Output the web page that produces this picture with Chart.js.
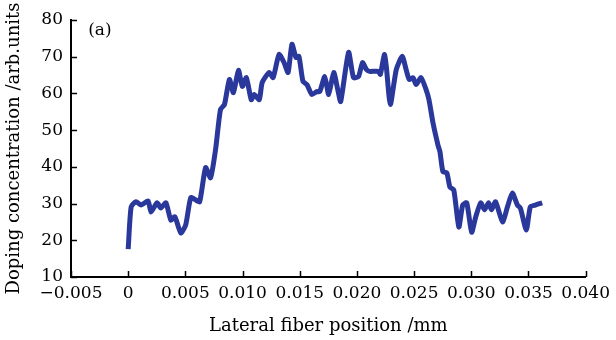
<!DOCTYPE html>
<html>
<head>
<meta charset="utf-8">
<script src="https://cdn.jsdelivr.net/npm/chart.js@4/dist/chart.umd.min.js"></script>
<style>
html,body{margin:0;padding:0;background:#fff;}
#wrap{width:616px;height:340px;position:relative;}
</style>
</head>
<body>
<div id="wrap"><canvas id="c" width="616" height="340"></canvas></div>
<script>
// Lateral fiber position (mm)
const positions = [0.0000,0.00026,0.00069,0.00113,0.00174,0.0020,0.00252,0.00286,0.0033,0.00373,0.00408,0.0046,0.00503,0.00547,0.0059,0.00625,0.00677,0.0072,0.00764,0.00807,0.00842,0.00885,0.0092,0.00964,0.00998,0.01033,0.01076,0.01102,0.01146,0.01172,0.01233,0.01267,0.01319,0.01363,0.01398,0.01432,0.01467,0.01493,0.01528,0.01563,0.01606,0.01649,0.01675,0.01719,0.01753,0.01797,0.01832,0.01858,0.01927,0.01970,0.02014,0.02049,0.02083,0.02109,0.02188,0.02205,0.0224,0.02257,0.02292,0.02344,0.02396,0.0243,0.02457,0.02491,0.02517,0.02561,0.02604,0.0263,0.02665,0.02708,0.02726,0.02752,0.02786,0.02813,0.02847,0.02891,0.02925,0.0296,0.03003,0.03038,0.03082,0.03116,0.03151,0.03177,0.03212,0.03273,0.03316,0.03359,0.03403,0.03429,0.03481,0.03516,0.03559,0.0362];
// Doping concentration (arb. units)
const doping = [17.6,29.1,30.5,29.6,30.7,27.7,30.2,28.8,30.2,25.5,26.4,22.0,24.2,31.6,31.0,30.5,39.8,37.0,44.7,55.6,57.0,63.8,60.2,66.3,61.9,64.3,58.3,59.7,58.3,63.0,65.7,64.3,70.6,68.4,65.7,73.4,69.8,70.1,63.3,62.4,59.7,60.5,60.5,64.6,59.7,65.7,61.1,57.8,71.2,64.3,64.6,68.4,66.5,66.0,66.0,65.2,70.6,67.3,57.0,66.5,70.1,66.5,63.8,64.3,62.4,64.3,61.1,58.3,52.0,46.0,44.1,38.7,38.4,34.5,33.7,23.6,29.6,30.2,22.2,26.3,30.2,28.3,30.2,28.3,30.5,25.0,29.1,32.9,29.6,28.8,22.8,29.1,29.6,30.2];
const xTicks = [-0.005,0,0.005,0.010,0.015,0.020,0.025,0.030,0.035,0.040];
const xTickLabels = ['\u22120.005','0','0.005','0.010','0.015','0.020','0.025','0.030','0.035','0.040'];
const yTicks = [10,20,30,40,50,60,70,80];
const xTitle = 'Lateral fiber position /mm';
const yTitle = 'Doping concentration /arb.units';
const panelLabel = '(a)';

const points = positions.map((p,i)=>({x:p,y:doping[i]}));
const tickFont = {family:'DejaVu Serif', size:17};
const titleFont = {family:'DejaVu Serif', size:18};

const inwardTicks = {
  id:'inwardTicks',
  afterDraw(chart){
    const ctx = chart.ctx, xs = chart.scales.x, ys = chart.scales.y;
    const ca = chart.chartArea;
    ctx.save();
    ctx.strokeStyle = '#000';
    ctx.lineWidth = 1.5;
    xTicks.forEach(v=>{
      const px = Math.round(xs.getPixelForValue(v))+0.5;
      ctx.beginPath(); ctx.moveTo(px, ca.bottom); ctx.lineTo(px, ca.bottom-6); ctx.stroke();
    });
    yTicks.forEach(v=>{
      const py = Math.round(ys.getPixelForValue(v))+0.5;
      ctx.beginPath(); ctx.moveTo(ca.left, py); ctx.lineTo(ca.left+6, py); ctx.stroke();
    });
    ctx.fillStyle = '#000';
    ctx.font = '17px "DejaVu Serif"';
    ctx.textAlign = 'left';
    ctx.textBaseline = 'middle';
    ctx.fillText(panelLabel, xs.getPixelForValue(-0.0035), ys.getPixelForValue(77));
    ctx.restore();
  }
};

new Chart(document.getElementById('c'), {
  type:'line',
  data:{datasets:[{
    data:points,
    borderColor:'#2a389c',
    borderWidth:5,
    pointRadius:0,
    tension:0.2,
    fill:false
  }]},
  options:{
    responsive:false,
    animation:false,
    layout:{padding:{top:20,right:25,left:0,bottom:0}},
    plugins:{legend:{display:false},tooltip:{enabled:false}},
    scales:{
      x:{
        type:'linear', min:-0.005, max:0.040,
        afterBuildTicks(s){ s.ticks = xTicks.map(v=>({value:v})); },
        afterFit(s){ s.height = 63; },
        grid:{display:true, drawOnChartArea:false, drawTicks:false},
        border:{display:true, color:'#000', width:2},
        ticks:{color:'#000', font:tickFont, padding:6, maxRotation:0, autoSkip:false,
          callback(v,i){ return xTickLabels[i]; }},
        title:{display:true, text:xTitle, color:'#000', font:titleFont, padding:{top:4,bottom:3}}
      },
      y:{
        type:'linear', min:10, max:80,
        afterBuildTicks(s){ s.ticks = yTicks.map(v=>({value:v})); },
        afterFit(s){ s.width = 71; },
        grid:{display:true, drawOnChartArea:false, drawTicks:false},
        border:{display:true, color:'#000', width:2},
        ticks:{color:'#000', font:tickFont, padding:8, autoSkip:false},
        title:{display:true, text:yTitle, color:'#000', font:titleFont, padding:{top:4,bottom:2}}
      }
    }
  },
  plugins:[inwardTicks]
});
</script>
</body>
</html>
